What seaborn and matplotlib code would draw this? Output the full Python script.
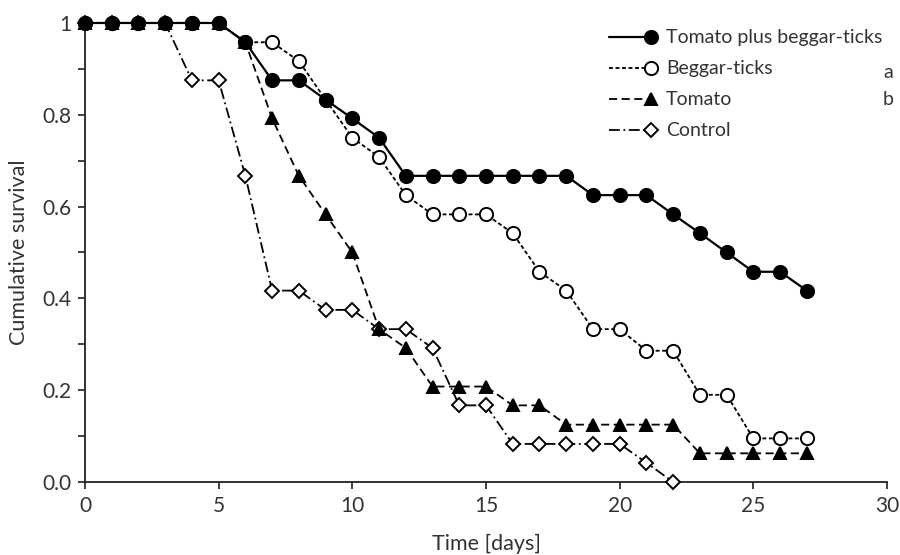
import numpy as np
import pandas as pd
import matplotlib
matplotlib.use("Agg")
import matplotlib.pyplot as plt
import seaborn as sns
from matplotlib.legend_handler import HandlerLine2D
from matplotlib.lines import Line2D

days_full = list(range(0, 28))
days_control = list(range(0, 23))

tomato_beggar = [1, 1, 1, 1, 1, 1, 0.958, 0.875, 0.875, 0.833, 0.792, 0.75,
                 0.667, 0.667, 0.667, 0.667, 0.667, 0.667, 0.667,
                 0.625, 0.625, 0.625, 0.583, 0.542, 0.5, 0.458, 0.458, 0.417]
beggar = [1, 1, 1, 1, 1, 1, 0.958, 0.958, 0.917, 0.833, 0.75, 0.708,
          0.625, 0.583, 0.583, 0.583, 0.542, 0.458, 0.417, 0.333, 0.333,
          0.286, 0.286, 0.190, 0.190, 0.095, 0.095, 0.095]
tomato = [1, 1, 1, 1, 1, 1, 0.958, 0.792, 0.667, 0.583, 0.5, 0.333,
          0.292, 0.208, 0.208, 0.208, 0.167, 0.167, 0.125, 0.125, 0.125,
          0.125, 0.125, 0.0625, 0.0625, 0.0625, 0.0625, 0.0625]
control = [1, 1, 1, 1, 0.875, 0.875, 0.667, 0.417, 0.417, 0.375, 0.375,
           0.333, 0.333, 0.292, 0.167, 0.167, 0.083, 0.083, 0.083, 0.083,
           0.083, 0.042, 0.0]

labels = ["Tomato plus beggar-ticks", "Beggar-ticks", "Tomato", "Control"]
x_ticks = [0, 5, 10, 15, 20, 25, 30]
y_ticks = [0.0, 0.1, 0.2, 0.3, 0.4, 0.5, 0.6, 0.7, 0.8, 0.9, 1.0]
y_ticklabels = ["0.0", "", "0.2", "", "0.4", "", "0.6", "", "0.8", "", "1"]
letters = ["a", "b"]

sns.set_style("ticks")
plt.rcParams['font.family'] = ['Lato', 'DejaVu Sans']
TXT = "#333333"

fig = plt.figure(figsize=(9, 5.55), dpi=100)
ax = fig.add_axes([0.0944, 0.1315, 0.8912, 0.8271])

styles = [
    dict(data=(days_full, tomato_beggar), marker="o", mfc="black", ls="-", dashes=None, ms=9.5, z=6),
    dict(data=(days_full, beggar), marker="o", mfc="white", ls="--", dashes=(2.2, 1.4), ms=9.5, z=5),
    dict(data=(days_full, tomato), marker="^", mfc="black", ls="--", dashes=(4.5, 2.5), ms=8.5, z=4),
    dict(data=(days_control, control), marker="D", mfc="white", ls="-.", dashes=(6, 2, 1, 2), ms=7, z=3),
]

handles = []
for lab, st in zip(labels, styles):
    xs, ys = st["data"]
    kw = dict(color="black", marker=st["marker"], markersize=st["ms"],
              markerfacecolor=st["mfc"], markeredgecolor="black",
              markeredgewidth=1.4, linewidth=1.3 if st["ls"] != "-" else 1.6,
              clip_on=False, zorder=st["z"])
    sns.lineplot(x=xs, y=ys, ax=ax, errorbar=None, label=lab, **kw)
    line = ax.get_lines()[-1]
    if st["dashes"] is not None:
        line.set_dashes(st["dashes"])
    handles.append(line)


class EndMarkerHandler(HandlerLine2D):
    def create_artists(self, legend, orig_handle, xdescent, ydescent,
                       width, height, fontsize, trans):
        x0 = -xdescent
        x1 = -xdescent + width
        y = (height - ydescent) / 2
        legline = Line2D([x0, x1], [y, y])
        self.update_prop(legline, orig_handle, legend)
        legline.set_markevery([1])
        legline.set_transform(trans)
        return [legline]


if ax.get_legend() is not None:
    ax.get_legend().remove()

leg = ax.legend(handles=handles, labels=labels, loc="upper left",
                bbox_to_anchor=(0.631, 1.024), frameon=False, fontsize=14,
                handlelength=2.2, handletextpad=0.75, labelspacing=0.72,
                handler_map={h: EndMarkerHandler() for h in handles})
for t in leg.get_texts():
    t.set_color(TXT)

fig.text(883 / 900, 1 - 72 / 555, letters[0], fontsize=14, color=TXT, va="center", ha="left")
fig.text(883 / 900, 1 - 100 / 555, letters[1], fontsize=14, color=TXT, va="center", ha="left")

ax.set_xlim(0, 30)
ax.set_ylim(0, 1)
ax.set_xticks(x_ticks)
ax.set_xticklabels([str(v) for v in x_ticks])
ax.set_yticks(y_ticks)
ax.set_yticklabels(y_ticklabels)
ax.tick_params(axis="both", direction="out", length=5, width=1.2, colors="#222222",
               labelcolor=TXT, labelsize=15, pad=5)
sns.despine(ax=ax)
for s in ["left", "bottom"]:
    ax.spines[s].set_linewidth(1.3)
    ax.spines[s].set_color("#222222")

ax.set_xlabel("Time [days]", fontsize=15.5, color=TXT, labelpad=13)
ax.set_ylabel("Cumulative survival", fontsize=15.5, color=TXT, labelpad=9)

fig.savefig("out.png", dpi=100)
